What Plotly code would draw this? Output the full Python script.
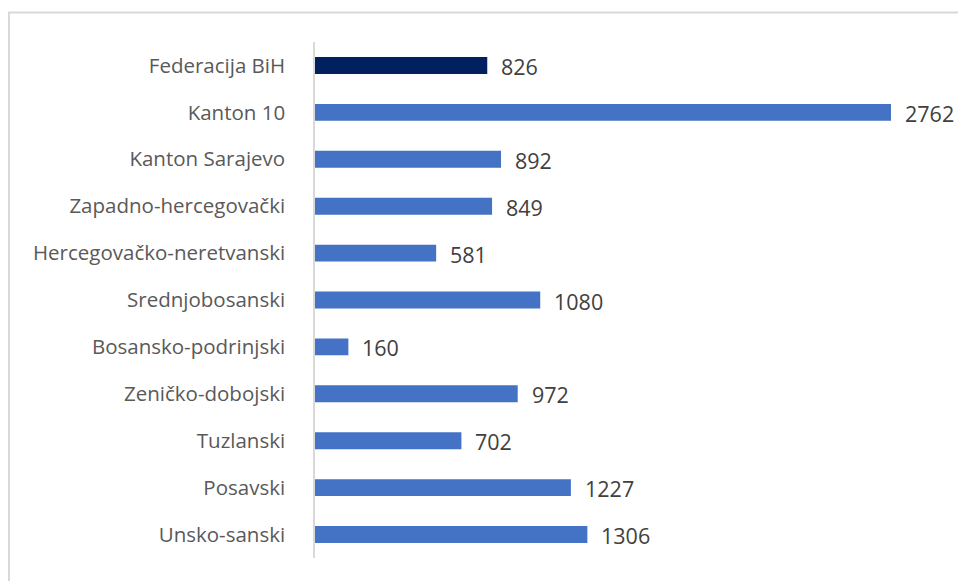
import plotly.graph_objects as go

# Regions (top to bottom as drawn) and their values
categories = [
    "Federacija BiH",
    "Kanton 10",
    "Kanton Sarajevo",
    "Zapadno-hercegovački",
    "Hercegovačko-neretvanski",
    "Srednjobosanski",
    "Bosansko-podrinjski",
    "Zeničko-dobojski",
    "Tuzlanski",
    "Posavski",
    "Unsko-sanski",
]
values = [826, 2762, 892, 849, 581, 1080, 160, 972, 702, 1227, 1306]

highlight = "Federacija BiH"
bar_colors = ["#002060" if c == highlight else "#4472C4" for c in categories]

W, H = 958, 581
ML, MR, MT, MB = 315, 0, 41.5, 22.5
plot_w = W - ML - MR
x_max = plot_w / (576 / 2762)

FONT = "Open Sans, Lato, sans-serif"

fig = go.Figure(
    go.Bar(
        x=values,
        y=categories,
        orientation="h",
        marker=dict(color=bar_colors, line=dict(width=0)),
        hoverinfo="x+y",
    )
)

# value labels just past each bar end
for c, v in zip(categories, values):
    fig.add_annotation(
        x=v, y=c, xref="x", yref="y",
        text=str(v), showarrow=False,
        xanchor="left", xshift=12, yshift=-1,
        font=dict(family=FONT, size=21.5, color="#404040"),
    )

# outer chart frame
fig.add_shape(
    type="rect", xref="paper", yref="paper",
    x0=(9 - ML) / plot_w, x1=(W + 20 - ML) / plot_w,
    y0=(H - MT - MB - (H + 20 - MT)) / (H - MT - MB),
    y1=(H - MB - 12) / (H - MT - MB),
    line=dict(color="#D9D9D9", width=2),
    fillcolor="rgba(0,0,0,0)", layer="below",
)

fig.update_layout(
    width=W, height=H,
    margin=dict(l=ML, r=MR, t=MT, b=MB),
    paper_bgcolor="white", plot_bgcolor="white",
    bargap=0.64,
    showlegend=False,
    font=dict(family=FONT),
    xaxis=dict(range=[0, x_max], visible=False, fixedrange=True),
    yaxis=dict(
        autorange="reversed",
        showline=True, linecolor="#D9D9D9", linewidth=1.5,
        showgrid=False, zeroline=False,
        ticks="", ticklabelstandoff=24,
        tickfont=dict(family=FONT, size=20.5, color="#595959"),
    ),
)

fig.write_html("out.html")
